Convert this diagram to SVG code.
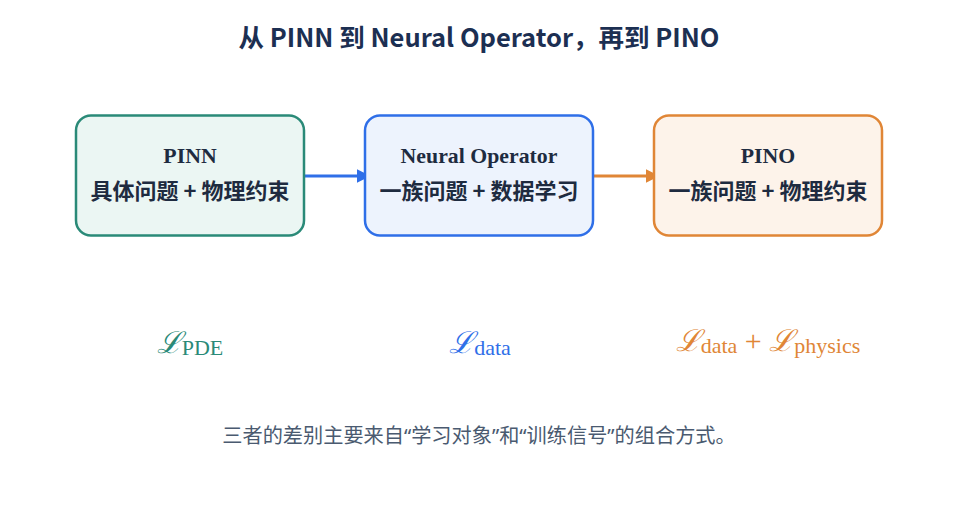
<svg xmlns="http://www.w3.org/2000/svg" width="958" height="519" viewBox="0 0 958 519">
<defs>
<style>
.title{font-family:"Noto Sans CJK SC","Noto Sans",sans-serif;font-weight:700;font-size:25.5px;fill:#1c2f52;text-anchor:middle}
.nt{font-family:"Liberation Serif","DejaVu Serif",serif;font-weight:700;font-size:21.8px;fill:#1e2b40;text-anchor:middle}
.nc{font-family:"Noto Sans CJK SC",sans-serif;font-weight:700;font-size:22px;fill:#1e2b40;text-anchor:middle}
.box{stroke-width:2.5}
.m{font-family:"Liberation Serif","DejaVu Serif",serif;font-size:22px;text-anchor:middle}
.L{font-family:"DejaVu Serif",serif;font-style:italic;font-size:30px}
.foot{font-family:"Noto Sans","Noto Sans CJK SC",sans-serif;font-size:20.2px;fill:#4a5a70;text-anchor:middle}
</style>
<marker id="ab" viewBox="0 0 10 10" refX="9" refY="5" markerWidth="4.5" markerHeight="4.5" orient="auto"><path d="M0,0 L10,5 L0,10 z" fill="#2f6fe8"/></marker>
<marker id="ao" viewBox="0 0 10 10" refX="9" refY="5" markerWidth="4.5" markerHeight="4.5" orient="auto"><path d="M0,0 L10,5 L0,10 z" fill="#e08636"/></marker>
</defs>
<rect width="958" height="519" fill="#ffffff"/>
<text class="title" x="479" y="47">从 PINN 到 Neural Operator，再到 PINO</text>
<g id="connectors">
<line x1="298" y1="176" x2="369" y2="176" stroke="#2f6fe8" stroke-width="3" marker-end="url(#ab)"/>
<line x1="587" y1="176" x2="658" y2="176" stroke="#e08636" stroke-width="3" marker-end="url(#ao)"/>
</g>
<g id="pinn">
<rect class="box" x="76" y="115.5" width="228" height="120" rx="15" fill="#ebf6f3" stroke="#2a8a78"/>
<text class="nt" x="190" y="163">PINN</text>
<text class="nc" x="190" y="199">具体问题 + 物理约束</text>
</g>
<g id="no">
<rect class="box" x="365" y="115.5" width="228" height="120" rx="15" fill="#edf3fd" stroke="#2f6fe8"/>
<text class="nt" x="479" y="163">Neural Operator</text>
<text class="nc" x="479" y="199">一族问题 + 数据学习</text>
</g>
<g id="pino">
<rect class="box" x="654" y="115.5" width="228" height="120" rx="15" fill="#fdf3ea" stroke="#e08636"/>
<text class="nt" x="768" y="163">PINO</text>
<text class="nc" x="768" y="199">一族问题 + 物理约束</text>
</g>
<text class="m" x="190" y="353" fill="#2a8a78"><tspan class="L">ℒ</tspan><tspan dy="2">PDE</tspan></text>
<text class="m" x="480" y="353" fill="#2f6fe8"><tspan class="L">ℒ</tspan><tspan dy="2">data</tspan></text>
<text class="m" x="768" y="351" fill="#e08636"><tspan class="L">ℒ</tspan><tspan dy="2">data</tspan><tspan dy="-2" font-size="30"> + </tspan><tspan class="L">ℒ</tspan><tspan dy="2">physics</tspan></text>
<text class="foot" x="479" y="443">三者的差别主要来自“学习对象”和“训练信号”的组合方式。</text>
</svg>
